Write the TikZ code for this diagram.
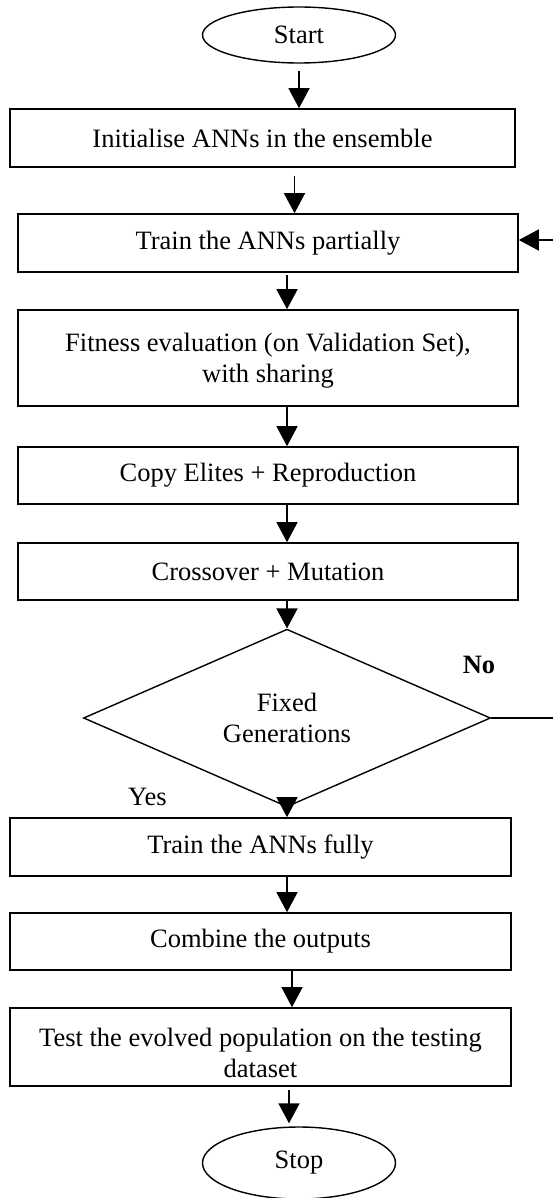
\documentclass[tikz,border=0pt]{standalone}
\usepackage{fontspec}
\setmainfont{Liberation Serif}
\usetikzlibrary{positioning, shapes.geometric, arrows.meta}

\begin{document}
\begin{tikzpicture}[
        x=1pt, y=-1pt,
        every node/.style={font=\fontsize{26.5}{31}\selectfont},
        process_node/.style={draw, rectangle, line width=1.6pt, minimum height=58pt, inner sep=0pt, align=center},
        terminal_node/.style={draw, ellipse, line width=1.4pt, minimum width=193pt, minimum height=56pt, inner sep=0pt},
        decision_node/.style={draw, diamond, line width=1.4pt, minimum width=407pt, minimum height=132pt, inner sep=0pt, align=center},
        arrow/.style={-{Triangle[length=20pt, width=21pt]}, line width=1.4pt}
    ]
        \useasboundingbox (0,0) rectangle (552,1198);

        % Nodes
        \node (start) [terminal_node] at (299,35) {Start};
        \node (init) [process_node, minimum width=505pt] at (262.5,138) {Initialise ANNs in the ensemble};
        \node (partial) [process_node, minimum width=500pt] at (268,243) {Train the ANNs partially};
        \node (fitness) [process_node, minimum width=500pt, minimum height=96pt] at (268,358) {\rule{0pt}{24pt}Fitness evaluation (on Validation Set),\\with sharing};
        \node (copy) [process_node, minimum width=500pt, minimum height=57pt] at (268,475.5) {Copy Elites + Reproduction};
        \node (cross) [process_node, minimum width=500pt, minimum height=57pt] at (268,571.5) {Crossover + Mutation};
        \node (fixed) [decision_node] at (287,718) {Fixed\\Generations};
        \node (full) [process_node, minimum width=501pt] at (260.5,847) {Train the ANNs fully};
        \node (combine) [process_node, minimum width=501pt, minimum height=57pt] at (260.5,941.5) {Combine the outputs};
        \node (test) [process_node, minimum width=501pt, minimum height=78pt] at (260.5,1047) {\rule{0pt}{30pt}Test the evolved population on the testing\\dataset};
        \node (stop) [terminal_node, minimum height=72pt] at (299,1163) {Stop};

        % Labels
        \node (no) at (479,665) {\bfseries No};
        \node (yes) at (147.5,797) {Yes};

        % Arrows
        \draw [arrow, shorten <=7pt] (start.south) -- (start.south |- init.north);
        \draw [arrow, shorten <=8pt] ([xshift=32pt]init.south) -- ([xshift=32pt]init.south |- partial.north);
        \draw [arrow, shorten <=2pt] (partial.south -| fixed) -- (fitness.north -| fixed);
        \draw [arrow] (fitness.south -| fixed) -- (copy.north -| fixed);
        \draw [arrow] (copy.south -| fixed) -- (cross.north -| fixed);
        \draw [arrow] (cross.south -| fixed) -- (fixed.north);
        \draw [arrow] (fixed.south) -- (full.north -| fixed);
        \draw [arrow] (full.south -| fixed) -- (combine.north -| fixed);
        \draw [arrow] ([xshift=5pt]combine.south -| fixed) -- ([xshift=5pt]test.north -| fixed);
        \draw [arrow, shorten <=3pt, shorten >=3pt] ([xshift=2pt]test.south -| fixed) -- ([xshift=2pt]stop.north -| fixed);
        \draw [arrow] (fixed.east) -- ++(66,0) |- ([yshift=3pt]partial.east);
    \end{tikzpicture}
\end{document}
